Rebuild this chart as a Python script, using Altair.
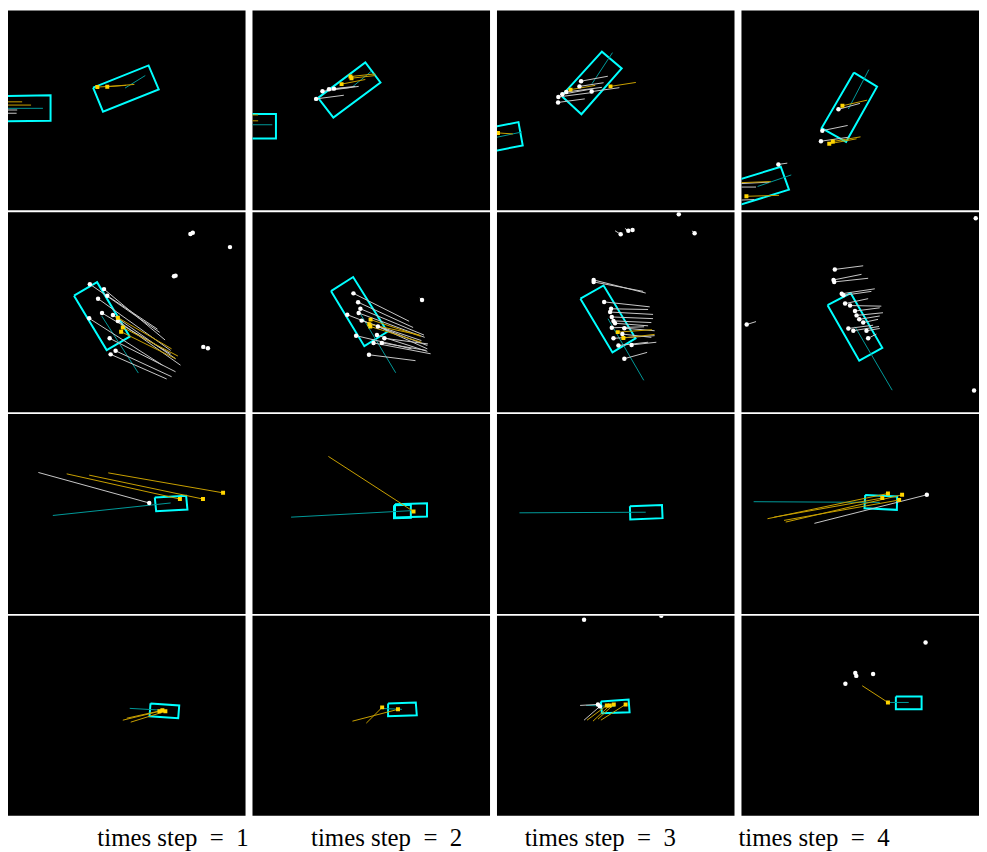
import altair as alt
import pandas as pd

# Panel-local coordinates (x to the right, y downward), panel = 240 x 203 units
# (row, col, corner points)
BOXES = [
    (1, 1, [(-55, 88), (43, 86), (43, 112), (-55, 113)]),
    (1, 1, [(86, 78.3), (142, 55.7), (152.3, 80), (96, 102.7)]),
    (1, 2, [(-60, 105), (23.7, 105), (23.7, 130), (-60, 130)]),
    (1, 2, [(66.3, 88.7), (114, 52.7), (129.3, 73), (81.7, 108.7)]),
    (1, 3, [(-58.3, 129.3), (21.7, 113.3), (26, 137), (-54, 153)]),
    (1, 3, [(65.3, 86.7), (106, 41.7), (126, 58.7), (85.3, 105.3)]),
    (1, 4, [(113.7, 63), (137, 77.3), (105.7, 133.3), (81, 119.3)]),
    (1, 4, [(-60.3, 189.7), (39.7, 158.7), (48, 182), (-52, 213)]),
    (2, 1, [(66.7, 84.7), (90, 71), (123, 126.3), (99.7, 140)]),
    (2, 2, [(79.3, 80), (101.7, 65.7), (136.3, 121.3), (113, 136)]),
    (2, 3, [(84.3, 87.7), (107.7, 74.3), (140, 128), (116.7, 142.3)]),
    (2, 4, [(87, 94.3), (110.3, 82), (142.3, 137.7), (119, 150.7)]),
    (3, 1, [(148.3, 84.7), (180, 83), (181.3, 97), (149.7, 98.7)]),
    (3, 2, [(144, 91.7), (176.3, 90.7), (176.3, 104), (144, 105)]),
    (3, 2, [(143, 92.7), (160, 92), (160, 105.3), (143, 105.7)]),
    (3, 3, [(134.3, 93.7), (166.7, 92.3), (167.3, 105.7), (134.7, 107)]),
    (3, 4, [(125, 82.3), (157.3, 83.7), (157, 97.3), (124.3, 95.7)]),
    (4, 1, [(144, 89), (173, 91), (172, 104), (143, 102)]),
    (4, 2, [(137, 89), (165, 88), (166, 101), (137, 102)]),
    (4, 3, [(105, 87), (133, 85), (134, 98), (106, 99)]),
    (4, 4, [(156, 82), (182, 82), (182, 95), (156, 95)]),
]

# heading lines (row, col, x, y, x2, y2)
TEAL = [
    (1, 1, -10, 99.3, 35.3, 99.3), (1, 1, 118.3, 78.7, 138.7, 66),
    (1, 2, -10, 116, 20, 116), (1, 2, 100.7, 77.7, 120, 61.7),
    (1, 3, -10, 130.8, 25.3, 123.3), (1, 3, 96, 74.3, 116.7, 42.7),
    (1, 4, 108, 100, 128.7, 60), (1, 4, 16.3, 178.7, 50.3, 167),
    (2, 1, 94.8, 105.5, 131.7, 163.3),
    (2, 2, 107.6, 100.8, 144.7, 163),
    (2, 3, 112.2, 108.1, 148.3, 170.7),
    (2, 4, 114.7, 116.2, 152.3, 180.7),
    (3, 1, 164.3, 90.3, 45.3, 103),
    (3, 2, 162.3, 98, 39, 104.7),
    (3, 3, 150.3, 99.7, 22.7, 100.3),
    (3, 4, 139.7, 89.7, 12.3, 89),
    (4, 1, 158, 96, 123, 94),
    (4, 2, 151, 95, 129, 94),
    (4, 3, 119, 92, 90, 91),
    (4, 4, 169, 88, 150, 88),
]

# white tracks: (row, col, dot x, dot y, end x, end y)
WHITE = [
    (1, 1, -4, 101, 9.3, 101), (1, 1, -4, 104.3, 8.7, 104.3),
    (1, 2, 64.3, 89.7, 92.3, 86), (1, 2, 70.7, 82, 107.3, 77),
    (1, 2, 77.3, 80, 100, 78), (1, 2, 82.3, 79.3, 104, 77),
    (1, 3, 85, 71.7, 112, 66.7), (1, 3, 83.3, 77, 107.7, 73.3),
    (1, 3, 70, 82.7, 106, 78), (1, 3, 66, 85, 97.7, 79.3),
    (1, 3, 62, 87.7, 96, 83.3), (1, 3, 61.7, 93.3, 88.7, 89.7),
    (1, 3, 95.7, 82.3, 123.7, 78.3),
    (1, 4, 98, 100.3, 119.7, 94.3), (1, 4, 81.7, 122, 107.3, 116.7),
    (1, 4, 80.3, 132.7, 108, 128.7), (1, 4, 37.3, 156.3, 46.3, 155),
    (1, 4, -5, 176, 28, 174.3), (1, 4, -5, 179.3, 14.7, 179.3),
    (1, 4, -5, 192.7, 13, 192),
    (2, 1, 82.7, 73, 153.3, 122), (2, 1, 97, 78, 158.7, 129.7),
    (2, 1, 100.3, 84.7, 151, 118.7), (2, 1, 91, 87.7, 164.3, 140.3),
    (2, 1, 95, 102.3, 164.3, 143.7), (2, 1, 106, 104.3, 169.3, 148.7),
    (2, 1, 111, 110.3, 174.3, 155.3), (2, 1, 82, 107.7, 156, 155.3),
    (2, 1, 102.7, 128, 169.3, 162), (2, 1, 108.7, 140.7, 165.3, 167),
    (2, 1, 103.7, 144.3, 160.3, 169.3),
    (2, 2, 102, 82.3, 158.3, 110.7), (2, 2, 106.7, 91.3, 162.3, 117),
    (2, 2, 109, 98, 173.3, 124.7), (2, 2, 107.3, 102.3, 174, 127),
    (2, 2, 110.3, 110, 170.7, 130.3), (2, 2, 95.7, 104, 176.7, 135.3),
    (2, 2, 126.7, 116, 176.7, 138.7), (2, 2, 125.7, 124.7, 176.7, 141.3),
    (2, 2, 104.7, 125.3, 160.7, 138.7), (2, 2, 122.3, 132.7, 180, 143.7),
    (2, 2, 130.7, 132.7, 175.7, 140.3), (2, 2, 133.3, 128, 177.3, 133.7),
    (2, 2, 117.7, 144.7, 164.7, 150.7), (2, 2, 171.3, 89, 169, 87),
    (2, 3, 97.7, 68.7, 150.3, 82), (2, 3, 97.7, 70.7, 147.7, 80.3),
    (2, 3, 108.3, 91, 154.3, 96), (2, 3, 115.3, 98, 152.7, 98.7),
    (2, 3, 114.3, 101.3, 157.7, 103.7), (2, 3, 116, 106.3, 157.7, 108),
    (2, 3, 117.7, 110.3, 156, 112), (2, 3, 119.3, 112.7, 152.7, 115.3),
    (2, 3, 116, 117.3, 148.7, 116.3), (2, 3, 128.7, 117.7, 159.3, 120.3),
    (2, 3, 117.7, 128, 159.3, 125.3), (2, 3, 122.7, 135.3, 152.7, 132),
    (2, 3, 136, 134.7, 161, 132), (2, 3, 128.7, 148.7, 151.7, 142.3),
    (2, 3, 126.7, 123.7, 156, 127),
    (2, 3, 125, 22.3, 119.3, 18.7), (2, 3, 132.7, 18.7, 129.3, 16.3),
    (2, 3, 199.7, 21.3, 197, 18.7),
    (2, 4, 94.3, 58, 123, 54.3), (2, 4, 93, 68.7, 121.3, 63),
    (2, 4, 93.7, 70.7, 128, 67), (2, 4, 101.3, 82.7, 134.7, 77.7),
    (2, 4, 103, 84.3, 131.3, 80.3), (2, 4, 104.7, 92.7, 128, 87.7),
    (2, 4, 109.7, 94.7, 141.3, 95.3), (2, 4, 114.7, 100.3, 139.7, 97),
    (2, 4, 116.3, 104.7, 143, 102), (2, 4, 119, 108.7, 139.7, 105.3),
    (2, 4, 123, 112, 138, 108.7), (2, 4, 108, 118, 133, 114.7),
    (2, 4, 113, 120.3, 139, 116), (2, 4, 126.3, 120.3, 139.7, 118),
    (2, 4, 128, 128, 136.3, 123.7), (2, 4, 5.3, 114, 14.7, 111),
    (3, 1, 142.7, 90.3, 30.7, 59.3),
    (3, 4, 187.3, 82, 73.7, 111),
    (4, 3, 102, 90, 84, 91), (4, 3, 104, 92, 88, 106),
]

# gold tracks: (row, col, dot x, dot y, end x, end y)
GOLD = [
    (1, 1, -5, 92.7, 14.3, 92.7), (1, 1, -5, 96, 23.3, 96),
    (1, 1, 90.3, 77.7, 119.3, 76), (1, 1, 100.3, 77.3, 127.7, 75),
    (1, 2, -5, 106, 5.7, 106), (1, 2, -5, 112, 5.7, 112),
    (1, 2, 99, 67, 124, 64.3), (1, 2, 100, 68.7, 124, 66), (1, 2, 90, 74.7, 114, 70),
    (1, 3, 1, 124.3, 16, 125.3), (1, 3, 74.3, 80.3, 99.3, 76), (1, 3, 114.7, 77, 140.3, 73),
    (1, 4, 102, 96.7, 127, 91), (1, 4, 92.3, 133, 120.3, 128.3),
    (1, 4, 88.7, 135.3, 116.3, 130.3), (1, 4, 5, 188.7, 38, 187.7),
    (1, 4, -5, 175, 29.7, 173.7),
    (2, 1, 111, 107, 165.3, 138.7), (2, 1, 116, 117, 171.7, 146), (2, 1, 114.3, 121.3, 169.3, 148.7),
    (2, 2, 119.3, 109, 170, 126), (2, 2, 118, 113.7, 169, 124.7), (2, 2, 119, 116, 170.7, 132),
    (2, 3, 122, 121.7, 156.7, 119.3), (2, 3, 127.7, 127.7, 159.3, 124),
    (3, 1, 173.7, 86.3, 59.3, 60.7), (3, 1, 197, 86.3, 82, 62), (3, 1, 217.3, 80, 101.3, 59.7),
    (3, 2, 162.7, 99, 76.7, 43),
    (3, 4, 148, 80.7, 26.3, 106.3), (3, 4, 162.3, 82, 44.7, 109.7),
    (3, 4, 159.3, 87.3, 43, 108), (3, 4, 142.3, 85.3, 33, 104.7),
    (4, 1, 153, 97, 116, 106), (4, 1, 156, 96, 120, 104), (4, 1, 159, 97, 124, 108),
    (4, 2, 147, 95, 101, 107), (4, 2, 131, 93, 115, 109),
    (4, 3, 111, 91, 91, 106), (4, 3, 114, 91, 97, 107), (4, 3, 118, 90, 102, 105), (4, 3, 130, 90, 105, 106),
    (4, 4, 148, 88, 122, 71),
]

# isolated white agents (row, col, x, y)
LONE = [
    (2, 1, 184.3, 22), (2, 1, 186.7, 20.7), (2, 1, 224.3, 35.3), (2, 1, 167.7, 65),
    (2, 1, 169.3, 64.3), (2, 1, 197.3, 136.7), (2, 1, 202, 138),
    (2, 3, 183.7, 2), (2, 3, 137, 18),
    (2, 4, 236.7, 6), (2, 4, 235, 181),
    (4, 3, 88, 4), (4, 3, 166, 0),
    (4, 4, 115, 58), (4, 4, 116, 61), (4, 4, 133, 59), (4, 4, 105, 69), (4, 4, 186, 27),
]

LABELS = ["times step\u2002=\u20021", "times step\u2002=\u20022",
          "times step\u2002=\u20023", "times step\u2002=\u20024"]

records = []
for i, (r, c, pts) in enumerate(BOXES):
    for k, (x, y) in enumerate(pts + [pts[0]]):
        records.append(dict(r=r, c=c, kind="box", gid=f"b{i}", ord=k, x=x, y=y))
for name, lst in (("teal", TEAL), ("white", WHITE), ("gold", GOLD)):
    for i, (r, c, x, y, x2, y2) in enumerate(lst):
        records.append(dict(r=r, c=c, kind=name, gid=f"{name}{i}", ord=0, x=x, y=y, x2=x2, y2=y2))
for i, (r, c, x, y) in enumerate(LONE):
    records.append(dict(r=r, c=c, kind="lone", gid=f"l{i}", ord=0, x=x, y=y))
df = pd.DataFrame(records)

X = alt.X("x:Q", scale=alt.Scale(domain=[0, 240], nice=False, zero=False), axis=None)
Y = alt.Y("y:Q", scale=alt.Scale(domain=[0, 203], nice=False, zero=False, reverse=True), axis=None)

boxes = alt.Chart().mark_line(color="#00ffff", strokeWidth=2, clip=True, strokeJoin="miter").encode(
    x=X, y=Y, detail="gid:N", order="ord:Q").transform_filter(alt.datum.kind == "box")
teal = alt.Chart().mark_rule(color="#009a9a", strokeWidth=1, clip=True).encode(
    x=X, y=Y, x2="x2:Q", y2="y2:Q").transform_filter(alt.datum.kind == "teal")
wlines = alt.Chart().mark_rule(color="#c8c8c8", strokeWidth=1, clip=True).encode(
    x=X, y=Y, x2="x2:Q", y2="y2:Q").transform_filter(alt.datum.kind == "white")
glines = alt.Chart().mark_rule(color="#c9a000", strokeWidth=1, clip=True).encode(
    x=X, y=Y, x2="x2:Q", y2="y2:Q").transform_filter(alt.datum.kind == "gold")
wdots = alt.Chart().mark_circle(color="white", size=20, opacity=1, clip=True).encode(
    x=X, y=Y).transform_filter((alt.datum.kind == "white") | (alt.datum.kind == "lone"))
gdots = alt.Chart().mark_square(color="#ffd400", size=16, opacity=1, clip=True).encode(
    x=X, y=Y).transform_filter(alt.datum.kind == "gold")

panels = alt.layer(boxes, teal, wlines, glines, wdots, gdots, data=df).properties(
    width=239, height=201
).facet(
    row=alt.Row("r:O", header=None),
    column=alt.Column("c:O", header=None),
    spacing={"row": 2, "column": 7},
)

labels = alt.Chart(pd.DataFrame({"label": LABELS})).mark_text(
    font="Liberation Serif", fontSize=25, color="black", baseline="alphabetic"
).encode(
    x=alt.X("label:N", sort=None, scale=alt.Scale(type="point", padding=0.772), axis=None),
    y=alt.value(24),
    text="label:N",
).properties(width=977, height=32, view=alt.ViewBackground(fill="white", strokeWidth=0))

chart = alt.vconcat(panels, labels, spacing=7).configure_view(
    fill="black", strokeWidth=0
).properties(background="white", padding=0)

chart.save("out.html", embed_options={"renderer": "svg", "actions": False})
